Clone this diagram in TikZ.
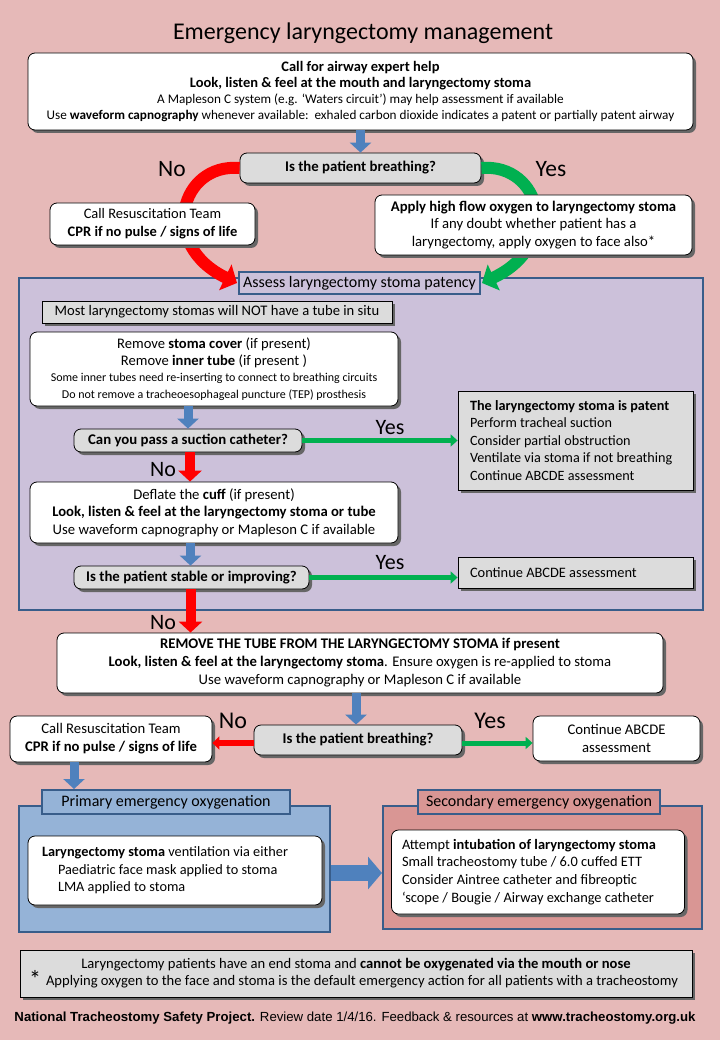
\documentclass[tikz,border=0pt]{standalone}
\usepackage{fontspec}
\setmainfont{Carlito}
\newfontfamily\footfont{Liberation Sans}
\usetikzlibrary{arrows.meta,shadows}
\definecolor{bgpink}{HTML}{E6B9B8}
\definecolor{lilac}{HTML}{CCC1DA}
\definecolor{panelblue}{HTML}{95B3D7}
\definecolor{panelred}{HTML}{D99694}
\definecolor{edgeblue}{HTML}{385D8A}
\definecolor{boxgray}{HTML}{DCDCDC}
\definecolor{arrowblue}{HTML}{4F81BD}
\definecolor{yesgreen}{HTML}{00B050}
\definecolor{nored}{HTML}{FF0000}
\newcommand{\fs}[2]{\fontsize{#1}{#2}\selectfont}
\tikzset{
  shd/.style={drop shadow={shadow xshift=3pt, shadow yshift=-3pt, fill=black!60, opacity=1}},
  wbox/.style={draw, fill=white, rounded corners=7pt, line width=0.8pt, shd, align=center, inner sep=2pt, font=\fs{14.7}{17.5}},
  gbox/.style={wbox, fill=boxgray},
  grect/.style={gbox, rounded corners=0pt},
  ask/.style={gbox, font=\fs{14.8}{17}\bfseries},
  panel/.style={draw=edgeblue, line width=2pt, inner sep=0pt},
  tag/.style={draw=edgeblue, line width=2pt, inner sep=0pt, font=\fs{16}{18}},
  barr/.style={draw=arrowblue, line width=9pt, -{Triangle[length=10pt,width=21pt]}},
  rarr/.style={draw=nored, line width=10pt, -{Triangle[length=11pt,width=23pt]}},
  garr/.style={draw=yesgreen, line width=5pt, -{Triangle[length=7pt,width=12pt]}},
  yn/.style={font=\fs{22}{24}}
}
\begin{document}
\begin{tikzpicture}[x=1pt,y=-1pt]
\useasboundingbox (0,0) rectangle (720,1040);
\fill[bgpink] (0,0) rectangle (720,1040);
\node[font=\fs{24}{28}] (title) at (363,33) {Emergency laryngectomy management};
% first assessment
\node[wbox, minimum width=665, minimum height=77, font=\fs{13.2}{16.3}] (help) at (360.5,91.5)
  {{\fs{14.5}{16.3}\textbf{Call for airway expert help}}\\
   {\fs{14.5}{16.3}\textbf{Look, listen \& feel at the mouth and laryngectomy stoma}}\\
   A Mapleson C system (e.g. `Waters circuit') may help assessment if available\\
   Use \textbf{waveform capnography} whenever available:\ \ exhaled carbon dioxide indicates a patent or partially patent airway};
\node[ask, minimum width=241, minimum height=30] (q1) at (360.5,168) {Is the patient breathing?};
\draw[barr] (help) -- (q1);
% stoma patency panel
\node[panel, fill=lilac, minimum width=684, minimum height=332] (patency) at (361,444) {};
\node[tag, fill=lilac, minimum width=241, minimum height=21] (assess) at (359.5,283) {Assess laryngectomy stoma patency};
\draw[rarr, line width=12pt, -{Triangle[length=13pt,width=28pt]}] (q1.west) .. controls (180,163) and (158,245) .. ([xshift=-1pt]assess.west);
\draw[garr, line width=12pt, -{Triangle[length=13pt,width=28pt]}] (q1.east) .. controls (541,163) and (563,245) .. ([xshift=1pt]assess.east);
\node[yn, font=\fs{23.5}{26}] (no1) at (172,169) {No};
\node[yn, font=\fs{23.5}{26}] (yes1) at (551,169) {Yes};
\node[wbox, minimum width=205, minimum height=42, font=\fs{14.5}{18}] (cpr1) at (152.5,224)
  {Call Resuscitation Team\\ \textbf{CPR if no pulse / signs of life}};
\node[wbox, minimum width=317, minimum height=60] (oxy) at (533.5,225)
  {\textbf{Apply high flow oxygen to laryngectomy stoma}\\
   If any doubt whether patient has a\\ laryngectomy, apply oxygen to face also*};
\node[grect, minimum width=350, minimum height=22, font=\fs{14.6}{16}] (notube) at (217,312)
  {Most laryngectomy stomas will NOT have a tube in situ};
\node[wbox, minimum width=368, minimum height=74, font=\fs{14.6}{16.5}] (cover) at (214,369)
  {Remove \textbf{stoma cover} (if present)\\
   Remove \textbf{inner tube} (if present )\\
   {\fs{12}{15}Some inner tubes need re-inserting to connect to breathing circuits}\\
   {\fs{12}{15}Do not remove a tracheoesophageal puncture (TEP) prosthesis}};
\node[ask, minimum width=228, minimum height=23] (q2) at (188,440.5) {Can you pass a suction catheter?};
\draw[barr] (q2.north |- cover.south) -- (q2.north);
\node[grect, minimum width=235, minimum height=99, text width=211, align=flush left, font=\fs{14.2}{17.5}] (patent) at (575.5,440.5)
  {\textbf{The laryngectomy stoma is patent}\\
   Perform tracheal suction\\
   Consider partial obstruction\\
   Ventilate via stoma if not breathing\\
   Continue ABCDE assessment};
\draw[garr] (q2) -- (q2 -| patent.west);
\node[yn] (yes2) at (390,428) {Yes};
\node[wbox, minimum width=368, minimum height=61] (cuff) at (214,512.5)
  {Deflate the \textbf{cuff} (if present)\\
   \textbf{Look, listen \& feel at the laryngectomy stoma or tube}\\
   Use waveform capnography or Mapleson C if available};
\draw[rarr] ([xshift=2pt]q2.south) -- ([xshift=2pt]q2.south |- cuff.north);
\node[yn] (no2) at (163,470) {No};
\node[ask, minimum width=235, minimum height=23] (q3) at (191.5,577.5) {Is the patient stable or improving?};
\draw[barr] ([xshift=-1pt]q3.north |- cuff.south) -- ([xshift=-1pt]q3.north);
\node[grect, minimum width=235, minimum height=31, text width=211, align=flush left, font=\fs{14.4}{16}] (cont1) at (575.5,572.5)
  {Continue ABCDE assessment};
\draw[garr] (q3) -- (q3 -| cont1.west);
\node[yn] (yes3) at (390,563) {Yes};
% tube removal
\node[wbox, minimum width=606, minimum height=60, font=\fs{14.7}{18}] (tube) at (360,663)
  {\textbf{REMOVE THE TUBE FROM THE LARYNGECTOMY STOMA if present}\\
   \textbf{Look, listen \& feel at the laryngectomy stoma}. Ensure oxygen is re-applied to stoma\\
   Use waveform capnography or Mapleson C if available};
\draw[rarr] ([xshift=-1pt]q3.south) -- ([xshift=-1pt]q3.south |- tube.north);
\node[yn] (no3) at (163,623) {No};
\node[ask, minimum width=208, minimum height=30] (q4) at (358,740) {Is the patient breathing?};
\draw[barr] ([xshift=-4pt]tube.south) -- ([xshift=-4pt]tube.south |- q4.north);
\node[wbox, minimum width=202, minimum height=46, font=\fs{14.7}{18}] (cpr2) at (111,739)
  {Call Resuscitation Team\\ \textbf{CPR if no pulse / signs of life}};
\node[wbox, minimum width=167, minimum height=45, font=\fs{14.7}{18}] (cont2) at (616.5,738.5)
  {Continue ABCDE\\ assessment};
\draw[rarr, line width=6pt, -{Triangle[length=7pt,width=13pt]}] ([yshift=-3pt]q4.west) -- ([yshift=-3pt]q4.west -| cpr2.east);
\draw[garr] ([yshift=-3pt]q4.east) -- ([yshift=-3pt]q4.east -| cont2.west);
\node[yn, font=\fs{24}{26}] (no4) at (233,721) {No};
\node[yn, font=\fs{24}{26}] (yes4) at (490,721) {Yes};
% oxygenation
\node[panel, fill=panelblue, minimum width=311, minimum height=126] (prim) at (174.5,869) {};
\node[panel, fill=panelred, minimum width=319, minimum height=123] (sec) at (542.5,867.5) {};
\node[tag, fill=panelblue, minimum width=248, minimum height=24] (tag1) at (166,802) {Primary emergency oxygenation};
\node[tag, fill=panelred, minimum width=242, minimum height=24] (tag2) at (539,802) {Secondary emergency oxygenation};
\draw[barr] ([xshift=-37pt]cpr2.south) -- ([xshift=-37pt]cpr2.south |- tag1.north);
\node[wbox, minimum width=294, minimum height=69, text width=266, align=flush left, font=\fs{14.3}{17.5}] (mask) at (175,870.5)
  {\textbf{Laryngectomy stoma} ventilation via either\\
   \hspace*{16pt}Paediatric face mask applied to stoma\\
   \hspace*{16pt}LMA applied to stoma};
\node[wbox, minimum width=293, minimum height=84, text width=272, align=flush left, font=\fs{14.4}{17.7}] (intub) at (538,872)
  {Attempt \textbf{intubation of laryngectomy stoma}\\
   Small tracheostomy tube / 6.0 cuffed ETT\\
   Consider Aintree catheter and fibreoptic\\
   `scope / Bougie / Airway exchange catheter};
\draw[barr, line width=16pt, -{Triangle[length=14pt,width=32pt]}] ([yshift=-4pt]prim.east) -- ([yshift=-4pt]prim.east -| sec.west);
% footnote
\node[grect, minimum width=672, minimum height=47, font=\fs{14.6}{17}] (note) at (356,973.5)
  {Laryngectomy patients have an end stoma and \textbf{cannot be oxygenated via the mouth or nose}\\
   \hspace*{12pt}Applying oxygen to the face and stoma is the default emergency action for all patients with a tracheostomy};
\node[font=\fs{24}{26}] (star) at (35,979) {*};
\node[font=\footfont\fs{13.2}{15}] (credit) at (355,1018)
  {\textbf{National Tracheostomy Safety Project.} Review date 1/4/16. Feedback \& resources at \textbf{www.tracheostomy.org.uk}};
\end{tikzpicture}
\end{document}
